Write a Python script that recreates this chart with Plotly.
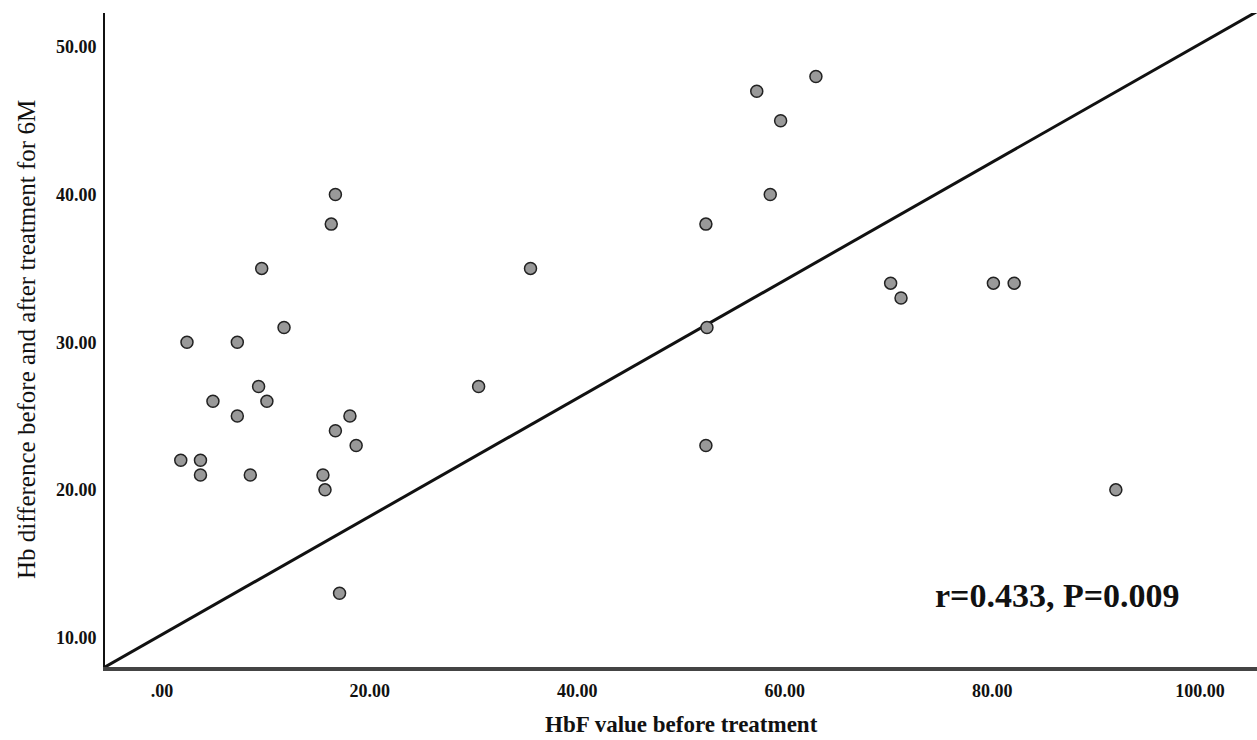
import plotly.graph_objects as go

# HbF value before treatment (x) and Hb difference (y)
hbf_before = [1.8, 2.4, 3.7, 3.7, 4.9, 7.25, 7.25, 8.5, 9.3, 9.6, 10.1, 11.75,
              15.5, 15.7, 16.3, 16.7, 16.7, 17.1, 18.1, 18.7, 30.5, 35.5,
              52.4, 52.5, 52.4, 57.3, 58.6, 59.6, 63.0, 70.2, 71.2, 80.1, 82.1, 91.9]
hb_diff = [22, 30, 22, 21, 26, 30, 25, 21, 27, 35, 26, 31,
           21, 20, 38, 40, 24, 13, 25, 23, 27, 35,
           38, 31, 23, 47, 40, 45, 48, 34, 33, 34, 34, 20]

# fit line (as drawn)
fit_intercept = 10.2
fit_slope = 0.4

x_range = [-5.5, 105.5]
y_range = [8.0, 52.3]
x_ticks = [0, 20, 40, 60, 80, 100]
x_ticklabels = [".00", "20.00", "40.00", "60.00", "80.00", "100.00"]
y_ticks = [10, 20, 30, 40, 50]
y_ticklabels = ["10.00", "20.00", "30.00", "40.00", "50.00"]

fig = go.Figure()
fit_x = x_range
fit_y = [fit_intercept + fit_slope * v for v in fit_x]
fig.add_trace(go.Scatter(x=fit_x, y=fit_y, mode="lines",
                         line=dict(color="#111111", width=3), hoverinfo="skip",
                         showlegend=False, cliponaxis=True))
fig.add_trace(go.Scatter(x=hbf_before, y=hb_diff, mode="markers",
                         marker=dict(size=12, color="#999999",
                                     line=dict(color="#222222", width=1.5)),
                         showlegend=False))

W, H = 1257, 740
L, R, T, B = 105, 0, 13, 73
pw, ph = W - L - R, H - T - B

serif = "Liberation Serif, Times New Roman, serif"
fig.update_layout(
    width=W, height=H,
    margin=dict(l=L, r=R, t=T, b=B, autoexpand=False),
    paper_bgcolor="white", plot_bgcolor="white",
    xaxis=dict(range=x_range, tickvals=x_ticks, ticktext=x_ticklabels,
               showgrid=False, zeroline=False, showline=True,
               linecolor="#444444", linewidth=4, ticks="",
               ticklabelstandoff=4,
               tickfont=dict(family=serif, size=18, color="#111111", weight="bold")),
    yaxis=dict(range=y_range, tickvals=y_ticks, ticktext=y_ticklabels,
               showgrid=False, zeroline=False, showline=True,
               linecolor="#111111", linewidth=2, ticks="",
               ticklabelstandoff=3,
               tickfont=dict(family=serif, size=18, color="#111111", weight="bold")),
    annotations=[
        dict(text="HbF value before treatment", xref="paper", yref="paper",
             x=0.5, y=-(724 - (T + ph)) / ph, xanchor="center", yanchor="middle",
             showarrow=False, font=dict(family=serif, size=23, color="#111111", weight="bold")),
        dict(text="Hb difference before and after treatment for 6M", xref="paper", yref="paper",
             x=(26 - L) / pw, y=0.5, xanchor="center", yanchor="middle", textangle=-90,
             showarrow=False, font=dict(family=serif, size=25, color="#111111")),
        dict(text="r=0.433, P=0.009", xref="x", yref="y",
             x=86.3, y=12.85, xanchor="center", yanchor="middle",
             showarrow=False, font=dict(family=serif, size=34, color="#111111", weight="bold")),
    ],
)
fig.write_html("out.html", config={"displayModeBar": False},
               post_script="document.body.style.margin='0px';document.body.style.overflow='hidden';")
